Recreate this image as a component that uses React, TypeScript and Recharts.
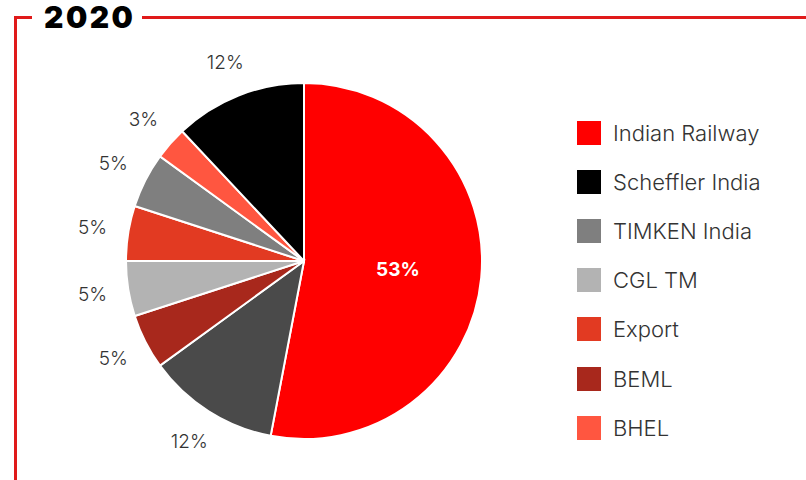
import React from "react";
import { PieChart, Pie, Cell } from "recharts";

const sliceNames = ["Indian Railway", "Others", "BEML", "CGL TM", "Export", "TIMKEN India", "BHEL", "Scheffler India"];
const sliceValues = [53, 12, 5, 5, 5, 5, 3, 12];
const sliceColors = ["#ff0000", "#4a4a4a", "#a8281c", "#b3b3b3", "#e23a22", "#7f7f7f", "#ff5640", "#000000"];

const legendNames = ["Indian Railway", "Scheffler India", "TIMKEN India", "CGL TM", "Export", "BEML", "BHEL"];
const legendColors = ["#ff0000", "#000000", "#7f7f7f", "#b3b3b3", "#e23a22", "#a8281c", "#ff5640"];

const data = sliceNames.map((name, i) => ({ name, value: sliceValues[i] }));

const FONT = "Inter, 'Open Sans', sans-serif";
const RED = "#e01a1a";
const RAD = Math.PI / 180;

const renderLabel = (props: any) => {
  const { cx, cy, midAngle, outerRadius, value, index } = props;
  if (index === 0) {
    const r = outerRadius * 0.53;
    const x = cx + r * Math.cos(-midAngle * RAD);
    const y = cy + r * Math.sin(-midAngle * RAD);
    return (
      <text x={x} y={y} fill="#ffffff" fontFamily={FONT} fontWeight={700} fontSize={19} textAnchor="middle" dominantBaseline="central">
        {value}%
      </text>
    );
  }
  const r = outerRadius + 36;
  const x = cx + r * Math.cos(-midAngle * RAD);
  const y = cy + r * Math.sin(-midAngle * RAD);
  return (
    <text x={x} y={y} fill="#333333" fontFamily={FONT} fontWeight={300} fontSize={19} textAnchor="middle" dominantBaseline="central">
      {value}%
    </text>
  );
};

export default function App() {
  return (
    <div style={{ position: "fixed", left: 0, top: 0, width: 806, height: 480, background: "#fff", overflow: "hidden" }}>
      <div style={{ position: "absolute", left: 14, top: 16, width: 3, height: 470, background: RED }} />
      <div style={{ position: "absolute", left: 14, top: 16, width: 18, height: 3, background: RED }} />
      <div style={{ position: "absolute", left: 142, top: 16, width: 664, height: 3, background: RED }} />
      <div style={{ position: "absolute", left: 44, top: 0, height: 34, lineHeight: "34px", fontFamily: FONT, fontWeight: 900, fontSize: 30, color: "#000", letterSpacing: 2.5 }}>
        2020
      </div>
      <div style={{ position: "absolute", left: 0, top: 0 }}>
        <PieChart width={806} height={480} margin={{ top: 0, right: 0, bottom: 0, left: 0 }}>
          <Pie
            data={data}
            dataKey="value"
            nameKey="name"
            cx={304}
            cy={261}
            outerRadius={178}
            startAngle={90}
            endAngle={-270}
            stroke="#ffffff"
            strokeWidth={2}
            label={renderLabel}
            labelLine={false}
            isAnimationActive={false}
          >
            {data.map((d, i) => (
              <Cell key={d.name} fill={sliceColors[i]} />
            ))}
          </Pie>
        </PieChart>
      </div>
      <div style={{ position: "absolute", left: 577, top: 108 }}>
        {legendNames.map((n, i) => (
          <div key={n} style={{ display: "flex", alignItems: "center", height: 49.2 }}>
            <div style={{ width: 24, height: 24, background: legendColors[i], marginRight: 12 }} />
            <span style={{ fontFamily: FONT, fontSize: 22, fontWeight: 300, color: "#333" }}>{n}</span>
          </div>
        ))}
      </div>
    </div>
  );
}
